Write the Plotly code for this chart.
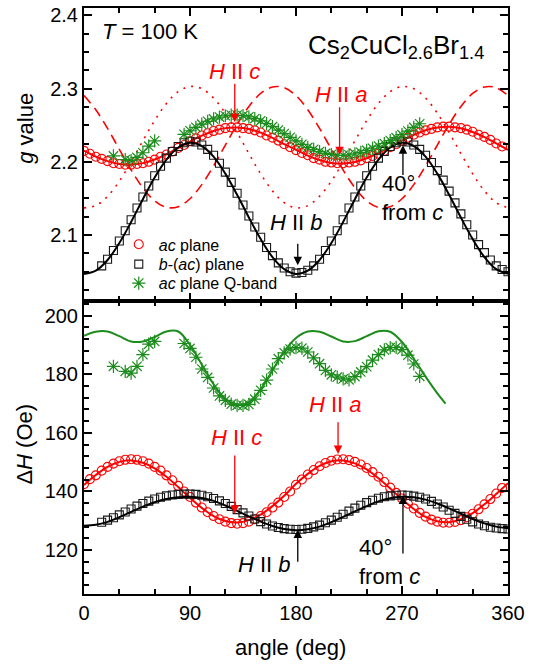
import plotly.graph_objects as go
from plotly.subplots import make_subplots

# ---------------- data ----------------
# measurement angles (deg)
ang_ac = list(range(0, 360, 5))          # ac plane, X-band
ang_b = list(range(15, 365, 5))          # b-(ac) plane
ang_q = [25, 35, 40, 45, 50, 55, 60] + list(range(85, 290, 5))  # ac plane, Q-band
ang_fit = list(range(0, 370, 10))        # fitted curves
ang_fit_q = list(range(0, 310, 10)) + [307]

# g value, ac plane
g_ac = [2.215, 2.211, 2.207, 2.204, 2.201, 2.198, 2.197, 2.196, 2.196, 2.197,
        2.198, 2.200, 2.203, 2.207, 2.210, 2.214, 2.219, 2.223, 2.228, 2.232,
        2.236, 2.239, 2.242, 2.244, 2.246, 2.247, 2.247, 2.246, 2.245, 2.243,
        2.240, 2.236, 2.233, 2.229, 2.224, 2.220,
        2.216, 2.212, 2.209, 2.205, 2.203, 2.200, 2.199, 2.198, 2.198, 2.199,
        2.200, 2.202, 2.205, 2.208, 2.211, 2.215, 2.220, 2.224, 2.229, 2.233,
        2.237, 2.240, 2.243, 2.245, 2.247, 2.248, 2.248, 2.247, 2.246, 2.244,
        2.241, 2.237, 2.234, 2.230, 2.225, 2.221]
g_ac_fit = [2.2153, 2.2072, 2.2009, 2.1970, 2.1961, 2.1982, 2.2032, 2.2103, 2.2188,
            2.2277, 2.2358, 2.2421, 2.2460, 2.2469, 2.2448, 2.2398, 2.2327, 2.2242,
            2.2165, 2.2085, 2.2025, 2.1985, 2.1978, 2.1998, 2.2048, 2.2118, 2.2202,
            2.2290, 2.2370, 2.2432, 2.2470, 2.2478, 2.2457, 2.2408, 2.2337, 2.2253,
            2.2163]
# g value of the two inequivalent sites
g_site1 = [2.2904, 2.2711, 2.2456, 2.2171, 2.1889, 2.1645, 2.1467, 2.1378, 2.1388,
           2.1496, 2.1689, 2.1944, 2.2229, 2.2511, 2.2755, 2.2933, 2.3022, 2.3012,
           2.2904, 2.2711, 2.2456, 2.2171, 2.1889, 2.1645, 2.1467, 2.1378, 2.1388,
           2.1496, 2.1689, 2.1944, 2.2229, 2.2511, 2.2755, 2.2933, 2.3022, 2.3012,
           2.2904]
g_site2 = [2.1372, 2.1402, 2.1529, 2.1736, 2.1999, 2.2287, 2.2564, 2.2797, 2.2958,
           2.3028, 2.2998, 2.2871, 2.2664, 2.2401, 2.2113, 2.1836, 2.1603, 2.1442,
           2.1372, 2.1402, 2.1529, 2.1736, 2.1999, 2.2287, 2.2564, 2.2797, 2.2958,
           2.3028, 2.2998, 2.2871, 2.2664, 2.2401, 2.2113, 2.1836, 2.1603, 2.1442,
           2.1372]
# g value, b-(ac) plane
g_b = [2.058, 2.067, 2.079, 2.092, 2.106, 2.121, 2.137, 2.152, 2.167, 2.181,
       2.194, 2.205, 2.214, 2.221, 2.226, 2.228, 2.227, 2.223, 2.217, 2.209,
       2.198, 2.186, 2.172, 2.157, 2.141, 2.126, 2.111, 2.097, 2.083, 2.072,
       2.062, 2.055, 2.050, 2.048, 2.049, 2.052, 2.058, 2.067, 2.079, 2.092,
       2.106, 2.121, 2.137, 2.152, 2.167, 2.181, 2.194, 2.205, 2.214, 2.221,
       2.226, 2.228, 2.227, 2.223, 2.217, 2.209, 2.199, 2.188, 2.175, 2.160,
       2.144, 2.129, 2.114, 2.100, 2.087, 2.076, 2.066, 2.058, 2.053, 2.050]
g_b_fit = [2.0470, 2.0514, 2.0660, 2.0891, 2.1179, 2.1490, 2.1785, 2.2030, 2.2195,
           2.2259, 2.2216, 2.2070, 2.1839, 2.1551, 2.1240, 2.0945, 2.0700, 2.0535,
           2.0470, 2.0514, 2.0660, 2.0891, 2.1179, 2.1490, 2.1785, 2.2030, 2.2195,
           2.2259, 2.2216, 2.2070, 2.1839, 2.1551, 2.1240, 2.0945, 2.0700, 2.0535,
           2.0470]
# g value, ac plane Q-band
g_q = [2.208, 2.203, 2.2016, 2.206, 2.2124, 2.2213, 2.2286,
       2.2375, 2.2424, 2.2471, 2.2514, 2.2553, 2.2586, 2.2611, 2.2629, 2.2638,
       2.2639, 2.2632, 2.2615, 2.2591, 2.2560, 2.2523, 2.2480, 2.2434, 2.2385,
       2.2335, 2.2286, 2.2239, 2.2196, 2.217, 2.214, 2.2115, 2.210, 2.209,
       2.209, 2.2095, 2.211, 2.213, 2.2155, 2.2185, 2.2215, 2.225, 2.229,
       2.233, 2.237, 2.242, 2.247, 2.252]

# linewidth dH (Oe), ac plane
dh_ac = [142.5, 144.2, 145.5, 147.1, 148.4, 149.5, 150.3, 150.8, 151.0, 150.8,
         150.3, 149.5, 148.4, 147.1, 145.5, 143.8, 141.9, 140.0, 138.1, 136.2,
         134.5, 132.9, 131.6, 130.5, 129.7, 129.2, 129.0, 129.2, 129.7, 130.5,
         131.6, 132.9, 134.5, 136.2, 138.1, 140.0,
         142.3, 144.1, 145.8, 147.3, 148.6, 149.7, 150.5, 150.9, 151.0, 150.7,
         150.1, 149.2, 148.0, 146.6, 145.0, 143.2, 141.3, 139.5, 137.6, 135.8,
         134.2, 132.7, 131.4, 130.4, 129.7, 129.3, 129.3, 129.6, 130.2, 131.2,
         132.4, 133.9, 135.6, 137.4, 139.3, 141.2]
dh_ac_fit = [142.2, 145.6, 148.4, 150.1, 150.6, 149.8, 147.9, 145.0, 141.5,
             137.8, 134.4, 131.6, 129.9, 129.4, 130.2, 132.1, 135.0, 138.5,
             142.6, 146.0, 148.7, 150.3, 150.6, 149.6, 147.5, 144.5, 141.0,
             137.3, 134.0, 131.3, 129.8, 129.5, 130.5, 132.6, 135.6, 139.1,
             142.8]
# linewidth dH (Oe), b-(ac) plane
dh_b = [129.5, 130.2, 131.0, 132.0, 133.0, 134.0, 135.0, 135.9, 136.7, 137.4,
        138.0, 138.5, 138.8, 139.0, 139.1, 139.1, 139.0, 138.7, 138.2, 137.6,
        136.8, 135.9, 134.9, 133.8, 132.7, 131.6, 130.6, 129.7, 128.9, 128.2,
        127.7, 127.3, 127.1, 127.0, 127.1, 127.4, 127.9, 128.5, 129.3, 130.2,
        131.2, 132.2, 133.3, 134.3, 135.3, 136.2, 137.0, 137.7, 138.2, 138.5,
        138.7, 138.8, 138.7, 138.4, 138.0, 137.4, 136.6, 135.7, 134.7, 133.6,
        132.5, 131.5, 130.5, 129.6, 128.9, 128.3, 127.8, 127.5, 127.3, 127.2]
dh_b_fit = [128.3, 128.6, 129.6, 131.2, 133.0, 134.8, 136.3, 137.4, 138.0,
            138.2, 137.8, 136.8, 135.2, 133.4, 131.5, 129.7, 128.2, 127.2,
            126.8, 127.1, 128.0, 129.5, 131.3, 133.2, 135.0, 136.6, 137.7,
            138.2, 138.0, 137.2, 135.9, 134.2, 132.4, 130.6, 129.1, 128.0,
            127.4]
# linewidth dH (Oe), ac plane Q-band
dh_q = [182.7, 181.0, 180.4, 182.7, 186.7, 190.3, 191.2,
        190.5, 188.8, 185.8, 181.8, 178.9, 175.3, 172.6, 171.1, 169.8, 169.4,
        169.4, 169.7, 171.5, 174.5, 178.0, 181.8, 185.3, 187.3, 188.6, 189.1,
        188.9, 187.6, 185.6, 183.6, 181.3, 179.8, 179.0, 178.4, 178.1, 179.2,
        180.8, 182.6, 184.8, 186.7, 188.3, 189.1, 189.2, 188.4, 186.5, 183.5,
        179.3]
dh_q_fit = [193.1, 194.5, 194.6, 193.0, 191.2, 191.2, 192.7, 194.6, 194.6, 190.0,
            183.3, 176.6, 171.6, 169.6, 170.5, 174.8, 181.3, 187.8, 192.4, 194.6,
            194.5, 192.9, 191.2, 191.3, 193.0, 194.7, 194.5, 191.0, 185.3, 179.2,
            173.5, 170.0]

# ---------------- styling ----------------
RED = "#ff0000"
BLACK = "#000000"
GREEN = "#1c8c1c"
FONT = "Liberation Sans, Arial, sans-serif"

fig = make_subplots(rows=2, cols=1, shared_xaxes=True, vertical_spacing=0)

circ = dict(symbol="circle-open", size=9, color=RED, line=dict(width=1.1, color=RED))
sq = dict(symbol="square-open", size=8, color="#1a1a1a", line=dict(width=1.1, color="#1a1a1a"))
star = dict(symbol="asterisk-open", size=11, color=GREEN, line=dict(width=1.2, color=GREEN))

# --- top panel: g value ---
fig.add_trace(go.Scatter(x=ang_fit, y=g_site2, mode="lines", line_shape="spline",
                         line=dict(color=RED, width=1.6, dash="2px,6px"), showlegend=False), 1, 1)
fig.add_trace(go.Scatter(x=ang_fit, y=g_site1, mode="lines", line_shape="spline",
                         line=dict(color=RED, width=1.6, dash="10px,6px"), showlegend=False), 1, 1)
fig.add_trace(go.Scatter(x=ang_ac, y=g_ac, mode="markers", marker=circ,
                         name="<i>ac</i> plane", legend="legend"), 1, 1)
fig.add_trace(go.Scatter(x=ang_fit, y=g_ac_fit, mode="lines", line_shape="spline",
                         line=dict(color=RED, width=2), showlegend=False), 1, 1)
fig.add_trace(go.Scatter(x=ang_b, y=g_b, mode="markers", marker=sq,
                         name="<i>b</i>-(<i>ac</i>) plane", legend="legend2"), 1, 1)
fig.add_trace(go.Scatter(x=ang_fit, y=g_b_fit, mode="lines", line_shape="spline",
                         line=dict(color=BLACK, width=2), showlegend=False), 1, 1)
fig.add_trace(go.Scatter(x=ang_q, y=g_q, mode="markers", marker=star,
                         name="<i>ac</i> plane Q-band", legend="legend3"), 1, 1)

# --- bottom panel: linewidth ---
fig.add_trace(go.Scatter(x=ang_ac, y=dh_ac, mode="markers", marker=circ, showlegend=False), 2, 1)
fig.add_trace(go.Scatter(x=ang_fit, y=dh_ac_fit, mode="lines", line_shape="spline",
                         line=dict(color=RED, width=2), showlegend=False), 2, 1)
fig.add_trace(go.Scatter(x=ang_b, y=dh_b, mode="markers", marker=sq, showlegend=False), 2, 1)
fig.add_trace(go.Scatter(x=ang_fit, y=dh_b_fit, mode="lines", line_shape="spline",
                         line=dict(color=BLACK, width=2), showlegend=False), 2, 1)
fig.add_trace(go.Scatter(x=ang_q, y=dh_q, mode="markers", marker=star, showlegend=False), 2, 1)
fig.add_trace(go.Scatter(x=ang_fit_q, y=dh_q_fit, mode="lines", line_shape="spline",
                         line=dict(color=GREEN, width=2), showlegend=False), 2, 1)

axis_common = dict(showline=True, linecolor=BLACK, linewidth=2, mirror="allticks",
                   ticks="inside", ticklen=8, tickwidth=1.5, tickcolor=BLACK,
                   showgrid=False, zeroline=False,
                   tickfont=dict(family=FONT, size=20, color=BLACK))

fig.update_xaxes(range=[0, 360], dtick=90, tick0=0,
                 minor=dict(ticks="inside", ticklen=5, dtick=30, tickwidth=1.5, tickcolor=BLACK),
                 **axis_common)
fig.update_xaxes(showticklabels=False, row=1, col=1)
fig.update_yaxes(range=[2.01, 2.41], dtick=0.1, tick0=2.0, tickformat=".1f",
                 minor=dict(ticks="inside", ticklen=5, dtick=0.025, tickwidth=1.5, tickcolor=BLACK),
                 row=1, col=1, **axis_common)
fig.update_yaxes(range=[105, 205], dtick=20, tick0=0,
                 minor=dict(ticks="inside", ticklen=5, dtick=4, tickwidth=1.5, tickcolor=BLACK),
                 row=2, col=1, **axis_common)

ann = []


def label(text, x, y, yref, color, size=22, xanchor="center", align="center"):
    ann.append(dict(text=text, x=x, y=y, xref="x", yref=yref, showarrow=False,
                    xanchor=xanchor, yanchor="middle", align=align,
                    font=dict(family=FONT, size=size, color=color)))


def arrow(x, y_tail, y_tip, yref, color):
    ann.append(dict(text="", x=x, y=y_tip, ax=x, ay=y_tail, xref="x", yref=yref,
                    axref="x", ayref=yref, showarrow=True, arrowhead=2,
                    arrowsize=1.3, arrowwidth=1.3, arrowcolor=color))


# top panel labels
label("<i>T</i> = 100 K", 13.3, 2.378, "y", BLACK, xanchor="left")
label("Cs<sub>2</sub>CuCl<sub>2.6</sub>Br<sub>1.4</sub>", 264.5, 2.358, "y", BLACK, size=26)
label("<i>H</i> II <i>c</i>", 128, 2.3237, "y", RED)
arrow(128, 2.3085, 2.254, "y", RED)
label("<i>H</i> II <i>a</i>", 218.5, 2.2923, "y", RED)
arrow(217, 2.2766, 2.2092, "y", RED)
label("<i>H</i> II <i>b</i>", 180.3, 2.117, "y", BLACK)
arrow(181.5, 2.0902, 2.0588, "y", BLACK)
label("40°<br>from <i>c</i>", 251, 2.1508, "y", BLACK, xanchor="left", align="left")
arrow(270.8, 2.18, 2.2226, "y", BLACK)

# bottom panel labels
label("<i>H</i> II <i>c</i>", 129.4, 158.4, "y2", RED)
arrow(128, 152.8, 132.4, "y2", RED)
label("<i>H</i> II <i>a</i>", 213.5, 169.7, "y2", RED)
arrow(215.7, 164.1, 152.8, "y2", RED)
label("<i>H</i> II <i>b</i>", 153.5, 114.9, "y2", BLACK)
arrow(181.5, 115.5, 127.0, "y2", BLACK)
label("40°<br>from <i>c</i>", 231.5, 116.0, "y2", BLACK, xanchor="left", align="left")
arrow(270.8, 118.3, 138.6, "y2", BLACK)

# axis titles
ann.append(dict(text="<i>g</i> value", x=-0.14, y=0.795, xref="paper", yref="paper",
                showarrow=False, textangle=-90, xanchor="center", yanchor="middle",
                font=dict(family=FONT, size=22, color=BLACK)))
ann.append(dict(text="Δ<i>H</i> (Oe)", x=-0.14, y=0.256, xref="paper", yref="paper",
                showarrow=False, textangle=-90, xanchor="center", yanchor="middle",
                font=dict(family=FONT, size=22, color=BLACK)))
ann.append(dict(text="angle (deg)", x=0.486, y=-0.091, xref="paper", yref="paper",
                showarrow=False, xanchor="center", yanchor="middle",
                font=dict(family=FONT, size=22, color=BLACK)))

# one legend per row, stacked in the lower-left of the top panel
leg_style = dict(x=0.082, xanchor="left", yanchor="middle",
                 bgcolor="rgba(0,0,0,0)", borderwidth=0,
                 font=dict(family=FONT, size=16, color=BLACK), itemwidth=30)

fig.update_layout(
    width=545, height=665,
    margin=dict(l=84, r=37, t=4, b=71),
    paper_bgcolor="white", plot_bgcolor="white",
    annotations=ann,
    showlegend=True,
    legend=dict(y=0.5966, **leg_style),
    legend2=dict(y=0.5627, **leg_style),
    legend3=dict(y=0.5305, **leg_style),
)

fig.write_html("out.html")
